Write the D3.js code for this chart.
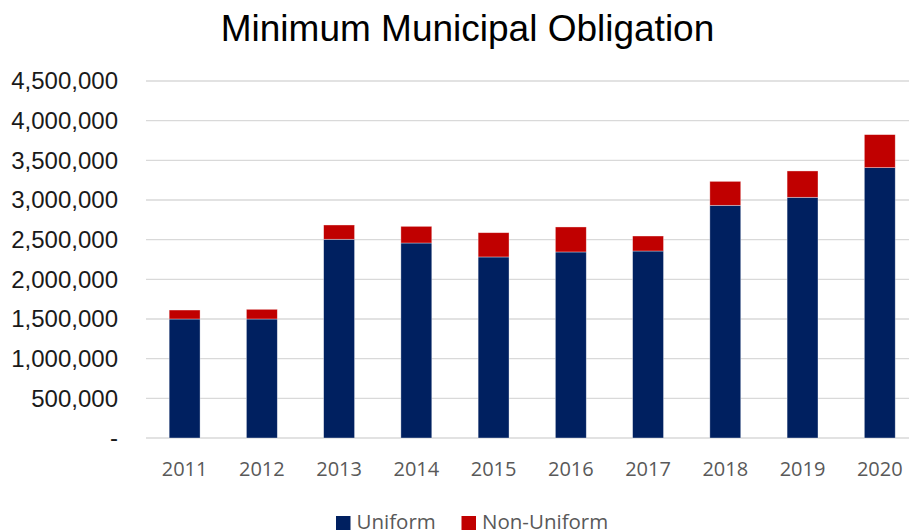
<!DOCTYPE html>
<html>
<head>
<meta charset="utf-8">
<script src="https://cdn.jsdelivr.net/npm/d3@7"></script>
<style>
  html, body { margin: 0; padding: 0; background: #fff; overflow: hidden; }
</style>
</head>
<body>
<svg id="chart"></svg>
<script>
const years = ["2011", "2012", "2013", "2014", "2015", "2016", "2017", "2018", "2019", "2020"];
const uniform = [1500000, 1500000, 2505000, 2458000, 2282000, 2345000, 2357000, 2933000, 3034000, 3408000];
const nonUniform = [113000, 122000, 180000, 210000, 306000, 315000, 189000, 302000, 332000, 416000];
const yTicks = [0, 500000, 1000000, 1500000, 2000000, 2500000, 3000000, 3500000, 4000000, 4500000];
const seriesNames = ["Uniform", "Non-Uniform"];
const seriesColors = ["#002060", "#C00000"];

const width = 909;
const height = 531;

const svg = d3.select("#chart").attr("width", width).attr("height", height);

const x = d3.scaleBand()
  .domain(years)
  .range([146, 918.4])
  .paddingInner(0.6)
  .paddingOuter(0.3);

const y = d3.scaleLinear()
  .domain([0, 4500000])
  .range([438, 81]);

// title
svg.append("text")
  .attr("x", 467.5)
  .attr("y", 41)
  .attr("text-anchor", "middle")
  .style("font-family", "'Liberation Sans', Arial, sans-serif")
  .style("font-size", "37px")
  .attr("fill", "#000")
  .text("Minimum Municipal Obligation");

// gridlines
svg.append("g")
  .selectAll("line")
  .data(yTicks)
  .join("line")
  .attr("x1", 146)
  .attr("x2", width)
  .attr("y1", d => y(d))
  .attr("y2", d => y(d))
  .attr("stroke", "#d9d9d9")
  .attr("stroke-width", 1.3);

// y axis labels
const fmt = d3.format(",");
const yAxis = d3.axisLeft(y)
  .tickValues(yTicks)
  .tickSize(0)
  .tickPadding(0)
  .tickFormat(d => (d === 0 ? "-" : fmt(d)));

svg.append("g")
  .attr("transform", "translate(118,0)")
  .call(yAxis)
  .call(g => g.select(".domain").remove())
  .call(g => g.selectAll("text")
    .style("font-family", "'Liberation Sans', Arial, sans-serif")
    .style("font-size", "24px")
    .attr("fill", "#1a1a1a"));

// stacked bars
const rows = years.map((yr, i) => ({ year: yr, Uniform: uniform[i], "Non-Uniform": nonUniform[i] }));
const stack = d3.stack().keys(seriesNames)(rows);

svg.append("g")
  .selectAll("g")
  .data(stack)
  .join("g")
  .attr("fill", (d, i) => seriesColors[i])
  .selectAll("rect")
  .data(d => d)
  .join("rect")
  .attr("x", d => x(d.data.year))
  .attr("y", d => y(d[1]))
  .attr("width", x.bandwidth())
  .attr("height", d => y(d[0]) - y(d[1]))
  .attr("stroke", "#ffffff")
  .attr("stroke-opacity", 0.5)
  .attr("stroke-width", 0.7);

// x axis labels
const xAxis = d3.axisBottom(x).tickSize(0).tickPadding(0);
svg.append("g")
  .attr("transform", "translate(0,462)")
  .call(xAxis)
  .call(g => g.select(".domain").remove())
  .call(g => g.selectAll("text")
    .attr("dy", "0.71em")
    .style("font-family", "'Open Sans', sans-serif")
    .style("font-size", "20px")
    .attr("fill", "#595959"));

// legend
const legendX = [336, 461.5];
const legend = svg.append("g")
  .selectAll("g")
  .data(seriesNames)
  .join("g")
  .attr("transform", (d, i) => `translate(${legendX[i]},516)`);

legend.append("rect")
  .attr("width", 14.5)
  .attr("height", 14)
  .attr("fill", (d, i) => seriesColors[i]);

legend.append("text")
  .attr("x", 20.5)
  .attr("y", 12.5)
  .style("font-family", "'Open Sans', sans-serif")
  .style("font-size", "20.5px")
  .attr("fill", "#595959")
  .text(d => d);
</script>
</body>
</html>
